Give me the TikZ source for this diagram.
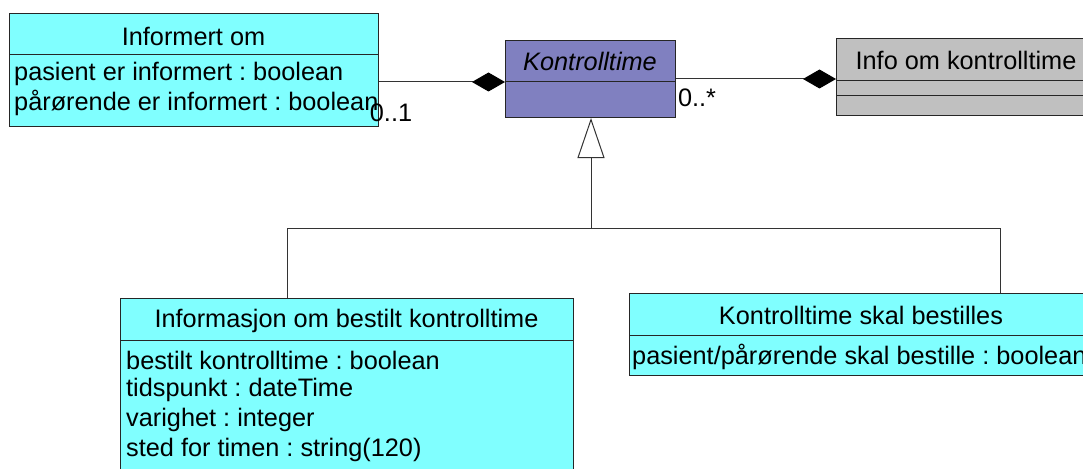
\documentclass[tikz,border=0pt]{standalone}
\usepackage{fontspec}
\setmainfont{Liberation Sans}
\usetikzlibrary{arrows.meta}
\definecolor{clscyan}{HTML}{80FFFF}
\definecolor{clspurple}{HTML}{8080C0}
\definecolor{clsgray}{HTML}{C0C0C0}
\frenchspacing
\begin{document}
\begin{tikzpicture}[x=1pt,y=-1pt,
  every node/.style={font=\fontsize{25.3}{30}\selectfont},
  classbox/.style={draw=black!85,line width=1pt,rectangle,inner sep=0pt,anchor=north west},
  divider/.style={draw=black!85,line width=1pt},
  title/.style={inner sep=0pt,anchor=center},
  attr/.style={inner sep=0pt,anchor=west},
  conn/.style={draw=black!80,line width=1pt},
  compo/.style={conn,-{Diamond[length=33pt,width=19pt,color=black,fill=black]}},
  gener/.style={conn,-{Triangle[open,length=40pt,width=27pt,fill=white]}},
  mult/.style={inner sep=0pt,anchor=center}]
\useasboundingbox (0,0) rectangle (1083,468);
\clip (0,0) rectangle (1083,468);
\fill[white] (0,0) rectangle (1083,468);

% Informert om
\node[classbox,fill=clscyan,minimum width=369pt,minimum height=113pt] (io) at (9,13) {};
\draw[divider] (9,55) -- (378,55);
\node[title] (iot) at (193.5,36) {Informert om};
\node[attr] (ioa1) at (14,74) {pasient er informert : boolean};
\node[attr] (ioa2) at (14,103) {pårørende er informert : boolean};

% Kontrolltime (abstract)
\node[classbox,fill=clspurple,minimum width=170pt,minimum height=77pt] (kt) at (505,40) {};
\coordinate (ktdiv) at (505,82);
\draw[divider] (ktdiv) -- (675,82);
\node[title] (ktt) at (590,61) {\itshape Kontrolltime};

% Info om kontrolltime
\node[classbox,fill=clsgray,minimum width=261pt,minimum height=77pt] (info) at (836,38) {};
\draw[divider] (836,81) -- (1097,81);
\draw[divider] (836,96) -- (1097,96);
\node[title] (infot) at (966,60) {Info om kontrolltime};

% Informasjon om bestilt kontrolltime
\node[classbox,fill=clscyan,minimum width=453pt,minimum height=200pt] (ibk) at (120,298) {};
\draw[divider] (120,340) -- (573,340);
\node[title] (ibkt) at (346.5,321) {Informasjon om bestilt kontrolltime};
\node[attr] (ibka1) at (126,360) {bestilt kontrolltime : boolean};
\node[attr] (ibka2) at (126,390) {tidspunkt : dateTime};
\node[attr] (ibka3) at (126,420) {varighet : integer};
\node[attr] (ibka4) at (126,450) {sted for timen : string(120)};

% Kontrolltime skal bestilles
\node[classbox,fill=clscyan,minimum width=464pt,minimum height=82pt] (ksb) at (629,293) {};
\draw[divider] (629,335) -- (1093,335);
\node[title] (ksbt) at (861,315) {Kontrolltime skal bestilles};
\node[attr] (ksba1) at (632,357) {pasient/pårørende skal bestille : boolean};

% Compositions
\draw[compo] (io.east |- ktdiv) -- (ktdiv);
\node[mult] (m1) at (391,113) {0..1};
\draw[compo] (kt.east) -- (kt.east -| info.west);
\node[mult] (m2) at (697,98) {0..*};

% Generalization tree
\coordinate (jc) at (591,228);
\coordinate (jl) at (287,228);
\coordinate (jr) at (1000,228);
\draw[conn] (jl) -- (jr);
\draw[conn] (jl) -- (jl |- ibk.north);
\draw[conn] (jr) -- (jr |- ksb.north);
\draw[gener] (jc) -- (jc |- kt.south);
\end{tikzpicture}
\end{document}
